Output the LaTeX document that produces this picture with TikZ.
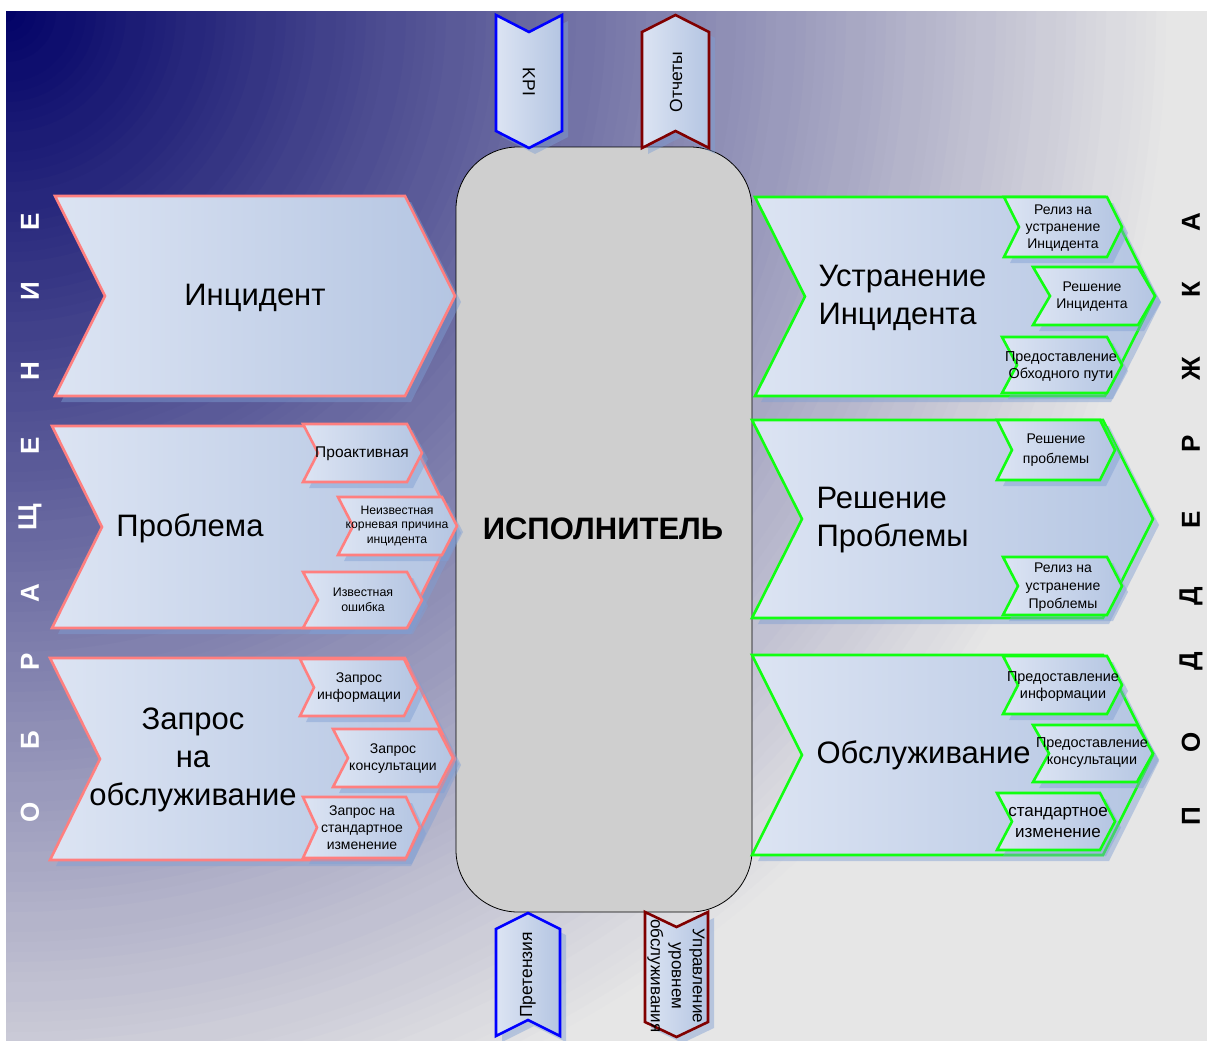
\documentclass[tikz,border=0pt]{standalone}
\usepackage{fontspec}
\setmainfont{Liberation Sans}
\definecolor{navy}{HTML}{000066}
\definecolor{bgg}{HTML}{E6E6E6}
\definecolor{redc}{HTML}{FF7F7F}
\definecolor{greenc}{HTML}{11FF11}
\definecolor{bluec}{HTML}{0000FF}
\definecolor{dredc}{HTML}{800000}
\definecolor{chevA}{HTML}{DCE4F3}
\definecolor{chevB}{HTML}{B4C5E2}
\definecolor{shadc}{HTML}{7F9FD4}
\definecolor{execc}{HTML}{CFCFCF}
\tikzset{
  chev/.style={left color=chevA, right color=chevB, line width=2.6pt, line join=miter},
  shad/.style={fill=shadc, opacity=0.45},
  bigtxt/.style={font=\fontsize{31}{38}\selectfont},
  smtxt/.style={font=\fontsize{14}{17}\selectfont, align=center, inner sep=0pt},
  vtxt/.style={font=\fontsize{17.5}{20}\selectfont, align=center, inner sep=0pt},
  lett/.style={font=\bfseries\fontsize{26}{26}\selectfont, rotate=90, inner sep=0pt}
}
% right-pointing chevron: x1,y1,x2,y2,depth,color
\newcommand{\rchev}[6]{%
  \fill[shad, shift={(6,6)}] (#1,#2) -- ({#3-#5},#2) -- (#3,{(#2+#4)/2}) -- ({#3-#5},#4) -- (#1,#4) -- ({#1+#5},{(#2+#4)/2}) -- cycle;
  \shade[chev, draw=#6] (#1,#2) -- ({#3-#5},#2) -- (#3,{(#2+#4)/2}) -- ({#3-#5},#4) -- (#1,#4) -- ({#1+#5},{(#2+#4)/2}) -- cycle;}
% down-pointing chevron
\newcommand{\dchev}[6]{%
  \fill[shad, shift={(6,6)}] (#1,#2) -- ({(#1+#3)/2},{#2+#5}) -- (#3,#2) -- (#3,{#4-#5}) -- ({(#1+#3)/2},#4) -- (#1,{#4-#5}) -- cycle;
  \shade[chev, draw=#6] (#1,#2) -- ({(#1+#3)/2},{#2+#5}) -- (#3,#2) -- (#3,{#4-#5}) -- ({(#1+#3)/2},#4) -- (#1,{#4-#5}) -- cycle;}
% up-pointing chevron
\newcommand{\uchev}[6]{%
  \fill[shad, shift={(6,6)}] (#1,{#2+#5}) -- ({(#1+#3)/2},#2) -- (#3,{#2+#5}) -- (#3,#4) -- ({(#1+#3)/2},{#4-#5}) -- (#1,#4) -- cycle;
  \shade[chev, draw=#6] (#1,{#2+#5}) -- ({(#1+#3)/2},#2) -- (#3,{#2+#5}) -- (#3,#4) -- ({(#1+#3)/2},{#4-#5}) -- (#1,#4) -- cycle;}
\begin{document}
\begin{tikzpicture}[x=1pt,y=-1pt]
\useasboundingbox (0,0) rectangle (1207,1041);
\fill[white] (0,0) rectangle (1207,1041);
% background radial gradient
\begin{scope}
  \clip (6,12) rectangle (1207,1041);
  \fill[bgg] (6,12) rectangle (1207,1041);
  \foreach \r in {1250,1240,...,10} {
    \pgfmathtruncatemacro\p{max(0,100*(1-\r/1180))}
    \fill[navy!\p!bgg] (6,12) circle[radius=\r pt];
  }
\end{scope}
% executor
\node[draw=black, line width=0.8pt, fill=execc, rounded corners=62pt, minimum width=296pt, minimum height=765pt, inner sep=0pt] (exec) at (604,529.5) {};
\node[font=\bfseries\fontsize{31}{31}\selectfont] (exect) at (603,529) {ИСПОЛНИТЕЛЬ};
% top / bottom chevrons
\dchev{496}{15}{562}{148}{17}{bluec}
\node[vtxt, rotate=-90] (kpi) at (529,82) {KPI};
\uchev{642}{15}{709}{148}{17}{dredc}
\node[vtxt, rotate=90] (otch) at (676,82) {Отчеты};
\uchev{496}{913}{560}{1036}{16}{bluec}
\node[vtxt, rotate=90] (pret) at (528,975) {Претензия};
\dchev{645}{912}{708}{1037}{15}{dredc}
\node[vtxt, rotate=-90, font=\fontsize{17}{21}\selectfont] (sla) at (676,976) {Управление\\уровнем\\обслуживания};
% left big chevrons
\rchev{55}{196}{455}{396}{50}{redc}
\node[bigtxt] (inc) at (255,298) {Инцидент};
\rchev{52}{426}{455}{628}{50}{redc}
\node[bigtxt] (prob) at (190,528) {Проблема};
\rchev{50}{658}{455}{860}{50}{redc}
\node[bigtxt, align=center] (req) at (193,760) {Запрос\\на\\обслуживание};
% left small chevrons
\rchev{303}{424}{422}{482}{15}{redc}
\node[smtxt, font=\fontsize{15.5}{17}\selectfont] (s1) at (362,454) {Проактивная};
\rchev{338}{497}{457}{555}{15}{redc}
\node[smtxt, font=\fontsize{12.2}{14.5}\selectfont] (s2) at (397,526) {Неизвестная\\корневая причина\\инцидента};
\rchev{303}{572}{422}{628}{15}{redc}
\node[smtxt, font=\fontsize{12.4}{15}\selectfont] (s3) at (363,600) {Известная\\ошибка};
\rchev{300}{659}{418}{716}{14}{redc}
\node[smtxt] (s4) at (359,688) {Запрос\\информации};
\rchev{333}{729}{453}{787}{15}{redc}
\node[smtxt] (s5) at (393,759) {Запрос\\консультации};
\rchev{303}{797}{420}{858}{14}{redc}
\node[smtxt] (s6) at (362,828) {Запрос на\\стандартное\\изменение};
% right big chevrons
\rchev{755}{197}{1155}{396}{50}{greenc}
\node[bigtxt, align=left, anchor=west] (ust) at (815,298) {Устранение\\Инцидента};
\rchev{752}{420}{1153}{618}{50}{greenc}
\node[bigtxt, align=left, anchor=west] (resh) at (813,520) {Решение\\Проблемы};
\rchev{752}{655}{1153}{855}{50}{greenc}
\node[bigtxt, anchor=west] (obsl) at (813,755) {Обслуживание};
% right small chevrons
\rchev{1004}{197}{1122}{257}{15}{greenc}
\node[smtxt] (r1) at (1063,228) {Релиз на\\устранение\\Инцидента};
\rchev{1033}{267}{1155}{325}{17}{greenc}
\node[smtxt] (r2) at (1092,297) {Решение\\Инцидента};
\rchev{1002}{337}{1122}{393}{15}{greenc}
\node[smtxt, font=\fontsize{14.4}{17}\selectfont] (r3) at (1061,367) {Предоставление\\Обходного пути};
\rchev{997}{420}{1115}{480}{15}{greenc}
\node[smtxt, font=\fontsize{14}{20}\selectfont] (r4) at (1056,450) {Решение\\проблемы};
\rchev{1003}{557}{1122}{615}{15}{greenc}
\node[smtxt, font=\fontsize{14}{18}\selectfont] (r5) at (1063,587) {Релиз на\\устранение\\Проблемы};
\rchev{1003}{656}{1122}{714}{15}{greenc}
\node[smtxt, font=\fontsize{14.4}{17}\selectfont] (r6) at (1063,687) {Предоставление\\информации};
\rchev{1033}{725}{1153}{782}{16}{greenc}
\node[smtxt, font=\fontsize{14.4}{17}\selectfont] (r7) at (1092,753) {Предоставление\\консультации};
\rchev{997}{793}{1115}{850}{15}{greenc}
\node[smtxt, font=\fontsize{17}{21}\selectfont] (r8) at (1058,822) {стандартное\\изменение};
% side letters
\foreach \l/\yy [count=\i] in {О/812,Б/740,Р/662,А/593,Щ/517,Е/446,Н/371,И/291,Е/222}
  \node[lett, text=white] (L\i) at (30,\yy) {\l};
\foreach \l/\yy [count=\i] in {П/816,О/742,Д/661,Д/596,Е/520,Р/444,Ж/369,К/290,А/222}
  \node[lett, text=black] (R\i) at (1191,\yy) {\l};
\end{tikzpicture}
\end{document}
